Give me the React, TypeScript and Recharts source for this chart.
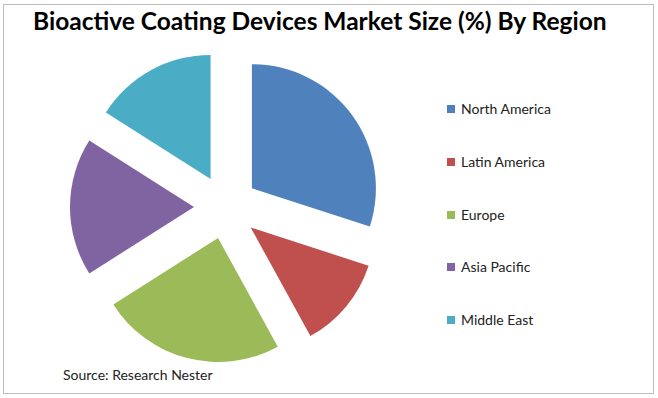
import React from 'react';
import { PieChart, Pie, Cell, Legend, Sector } from 'recharts';

const regions = ['North America', 'Latin America', 'Europe', 'Asia Pacific', 'Middle East'];
const shares = [30, 12, 24, 18, 16];
const colors = ['#4F81BD', '#C0504D', '#9BBB59', '#8064A2', '#4BACC6'];

const data = regions.map((name, i) => ({ name, value: shares[i] }));

const RAD = Math.PI / 180;
const EXPLODE = 32;

const renderExploded = (props: any) => {
  const { cx, cy, midAngle, innerRadius, outerRadius, startAngle, endAngle, index } = props;
  const dx = EXPLODE * Math.cos(-midAngle * RAD);
  const dy = EXPLODE * Math.sin(-midAngle * RAD);
  return (
    <Sector
      key={`ex-${index}`}
      cx={cx + dx}
      cy={cy + dy}
      innerRadius={innerRadius}
      outerRadius={outerRadius}
      startAngle={startAngle}
      endAngle={endAngle}
      fill={colors[index]}
      stroke="none"
    />
  );
};

const renderLegend = () => {
  return (
    <div style={{ fontFamily: 'Lato, "Open Sans", sans-serif', fontSize: 14, color: '#222' }}>
      {regions.map((name, i) => (
        <div key={name} style={{ height: 52.75, display: 'flex', alignItems: 'flex-start' }}>
          <span
            style={{
              display: 'inline-block',
              width: 8,
              height: 8,
              background: colors[i],
              marginTop: 5,
              marginRight: 6,
            }}
          />
          <span style={{ lineHeight: '18px' }}>{name}</span>
        </div>
      ))}
    </div>
  );
};

export default function App() {
  return (
    <div style={{ position: 'absolute', left: 0, top: 0, width: 658, height: 398, background: '#fff' }}>
      <div
        style={{
          position: 'absolute',
          left: 3,
          top: 4,
          width: 649,
          height: 388,
          border: '1px solid #bdbdbd',
        }}
      />
      <div
        style={{
          position: 'absolute',
          left: 33,
          top: 6,
          fontFamily: 'Lato, "Open Sans", sans-serif',
          fontWeight: 700,
          fontSize: 24.5,
          color: '#000',
          whiteSpace: 'nowrap',
        }}
      >
        Bioactive Coating Devices Market Size (%) By Region
      </div>
      <div style={{ position: 'absolute', left: 0, top: 0, width: 658, height: 398 }}>
        <PieChart width={658} height={398} margin={{ top: 0, right: 0, bottom: 0, left: 0 }}>
          <Pie
            data={data}
            dataKey="value"
            nameKey="name"
            cx={226}
            cy={207}
            innerRadius={0}
            outerRadius={124}
            startAngle={90}
            endAngle={-270}
            stroke="none"
            label={renderExploded}
            labelLine={false}
            isAnimationActive={false}
          >
            {data.map((d) => (
              <Cell key={d.name} fill="transparent" />
            ))}
          </Pie>
          <Legend
            content={renderLegend}
            wrapperStyle={{ position: 'absolute', left: 447, top: 100, width: 180 }}
          />
        </PieChart>
      </div>
      <div
        style={{
          position: 'absolute',
          left: 63,
          top: 366,
          fontFamily: 'Lato, "Open Sans", sans-serif',
          fontSize: 14,
          color: '#222',
          whiteSpace: 'nowrap',
        }}
      >
        Source: Research Nester
      </div>
    </div>
  );
}
